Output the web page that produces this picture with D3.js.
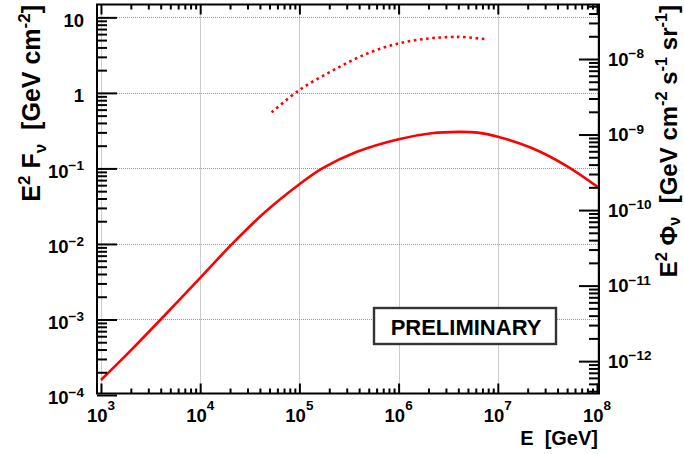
<!DOCTYPE html>
<html>
<head>
<meta charset="utf-8">
<script src="https://cdn.jsdelivr.net/npm/d3@7"></script>
<style>
  html, body { margin: 0; padding: 0; background: #fff; }
  svg { display: block; font-family: "Liberation Sans", Arial, Helvetica, sans-serif; font-weight: bold; }
  text { white-space: pre; }
</style>
</head>
<body>
<svg id="chart" width="684" height="454"></svg>
<script>
// ---- spectra: energy (GeV) and E^2 F (GeV cm^-2) ----
const energySolid = [1e3, 2e3, 4e3, 1e4, 2.1e4, 4.4e4, 1e5, 1.7e5, 3.8e5, 1e6, 2.15e6, 4e6, 6.3e6, 1e7, 2.2e7, 5.1e7, 1.05e8];
const fluxSolid   = [1.58e-4, 3.9e-4, 1.0e-3, 3.55e-3, 1.0e-2, 2.57e-2, 6.17e-2, 0.1, 0.166, 0.244, 0.292, 0.305, 0.298, 0.263, 0.186, 0.105, 0.055];
const energyDotted = [5.25e4, 1e5, 2.2e5, 4.8e5, 1e6, 2e6, 3.4e6, 4.3e6, 7.8e6];
const fluxDotted   = [0.552, 1.09, 2.0, 3.31, 4.52, 5.25, 5.5, 5.5, 5.13];

// ---- axes ----
const energyRange = [912, 1.047e8];
const fluxRange = [1.047e-4, 14.8];
const fluxToIntensity = 3.56e-9;   // E^2 F -> E^2 Phi (GeV cm^-2 s^-1 sr^-1)

const xTickValues = [1e3, 1e4, 1e5, 1e6, 1e7, 1e8];
const xTickLabels = [["10","3"],["10","4"],["10","5"],["10","6"],["10","7"],["10","8"]];
const yLeftTickValues = [1e-4, 1e-3, 1e-2, 1e-1, 1, 10];
const yLeftTickLabels = [["10","\u22124"],["10","\u22123"],["10","\u22122"],["10","\u22121"],["1",""],["10",""]];
const yRightTickValues = [1e-12, 1e-11, 1e-10, 1e-9, 1e-8];
const yRightTickLabels = [["10","\u221212"],["10","\u221211"],["10","\u221210"],["10","\u22129"],["10","\u22128"]];

const frame = { left: 97, right: 599, top: 4.5, bottom: 393.5 };

const svg = d3.select("#chart");

const x = d3.scaleLog().domain(energyRange).range([frame.left, frame.right]);
const y = d3.scaleLog().domain(fluxRange).range([frame.bottom, frame.top]);
const yR = d3.scaleLog()
  .domain([fluxRange[0] * fluxToIntensity, fluxRange[1] * fluxToIntensity])
  .range([frame.bottom, frame.top]);

// ---- grid ----
const grid = svg.append("g").attr("stroke", "#999").attr("stroke-width", 1).attr("stroke-dasharray", "1,1");
grid.selectAll("line.gx").data(xTickValues).join("line")
  .attr("x1", d => Math.round(x(d)) + 0.5).attr("x2", d => Math.round(x(d)) + 0.5)
  .attr("y1", frame.top).attr("y2", frame.bottom);
grid.selectAll("line.gy").data(yLeftTickValues.slice(1)).join("line")
  .attr("x1", frame.left).attr("x2", frame.right)
  .attr("y1", d => Math.round(y(d)) + 0.5).attr("y2", d => Math.round(y(d)) + 0.5);

// ---- curves ----
svg.append("clipPath").attr("id", "plotClip").append("rect")
  .attr("x", frame.left).attr("y", frame.top)
  .attr("width", frame.right - frame.left).attr("height", frame.bottom - frame.top);

const line = d3.line().x(d => x(d[0])).y(d => y(d[1])).curve(d3.curveCatmullRom.alpha(0.5));
const plot = svg.append("g").attr("clip-path", "url(#plotClip)");

plot.append("path")
  .attr("d", line(d3.zip(energySolid, fluxSolid)))
  .attr("fill", "none").attr("stroke", "#ff0000").attr("stroke-width", 2.6);

plot.append("path")
  .attr("d", line(d3.zip(energyDotted, fluxDotted)))
  .attr("fill", "none").attr("stroke", "#ff0000").attr("stroke-width", 2.6)
  .attr("stroke-dasharray", "2.6,3.6");

// ---- ticks ----
function minorOf(scale, majors) {
  return scale.ticks().filter(v => !majors.some(m => Math.abs(m - v) / m < 1e-6));
}
function tickAxis(axisFn, scale, majors, majorLen, minorLen, transform) {
  const g = svg.append("g").attr("transform", transform);
  g.append("g").call(axisFn(scale).tickValues(majors).tickSize(-majorLen).tickSizeOuter(0).tickFormat(""));
  g.append("g").call(axisFn(scale).tickValues(minorOf(scale, majors)).tickSize(-minorLen).tickSizeOuter(0).tickFormat(""));
  g.selectAll(".domain").remove();
  g.selectAll(".tick line").attr("stroke", "#000").attr("stroke-width", 2);
  return g;
}
tickAxis(d3.axisBottom, x, xTickValues, 10, 5, `translate(0,${frame.bottom})`);
tickAxis(d3.axisTop, x, xTickValues, 10, 5, `translate(0,${frame.top})`);
tickAxis(d3.axisLeft, y, yLeftTickValues, 20, 10, `translate(${frame.left},0)`);
tickAxis(d3.axisRight, yR, yRightTickValues, 20, 10, `translate(${frame.right},0)`);

// ---- frame ----
svg.append("rect")
  .attr("x", frame.left).attr("y", frame.top)
  .attr("width", frame.right - frame.left).attr("height", frame.bottom - frame.top)
  .attr("fill", "none").attr("stroke", "#000").attr("stroke-width", 2);

// ---- tick labels ----
function powerText(sel, lab) {
  sel.append("tspan").text(lab[0]);
  if (lab[1]) {
    const neg = lab[1].startsWith("\u2212");
    sel.append("tspan").attr("font-size", 13.5).attr("dy", neg ? -7.6 : -11.6).text(lab[1]);
  }
}
const labelSize = 18.5;

xTickValues.forEach((v, i) => {
  svg.append("text").attr("x", x(v)).attr("y", 421.7)
    .attr("text-anchor", "middle").attr("font-size", labelSize)
    .call(powerText, xTickLabels[i]);
});
yLeftTickValues.forEach((v, i) => {
  svg.append("text").attr("x", 84).attr("y", y(v) + 9.4)
    .attr("text-anchor", "end").attr("font-size", labelSize)
    .call(powerText, yLeftTickLabels[i]);
});
yRightTickValues.forEach((v, i) => {
  svg.append("text").attr("x", 608).attr("y", yR(v) + 6.6)
    .attr("text-anchor", "start").attr("font-size", labelSize)
    .call(powerText, yRightTickLabels[i]);
});

// ---- axis titles ----
svg.append("text").attr("x", 598).attr("y", 445)
  .attr("text-anchor", "end").attr("font-size", 20).text("E  [GeV]");

function richTitle(g, parts, size, subDrop) {
  const up = size * 0.42;
  parts.forEach(p => {
    const t = g.append("tspan").text(p.t);
    if (p.sup) t.attr("font-size", size * 0.68).attr("dy", -up);
    if (p.sub) t.attr("font-size", size * 0.68).attr("dy", subDrop);
    if (p.back !== undefined) t.attr("dy", p.back);
  });
}
const ls = 25;
const leftTitle = svg.append("text")
  .attr("transform", "translate(40,5) rotate(-90)")
  .attr("text-anchor", "end").attr("font-size", ls);
richTitle(leftTitle, [
  { t: "E" }, { t: "2", sup: true }, { t: " F", back: ls * 0.42 }, { t: "\u03bd", sub: true },
  { t: "  [GeV cm", back: -ls * 0.25 }, { t: "-2", sup: true }, { t: "]", back: ls * 0.42 }
], ls, ls * 0.25);

const rs = 24;
const rightTitle = svg.append("text")
  .attr("transform", "translate(677,5) rotate(-90)")
  .attr("text-anchor", "end").attr("font-size", rs);
richTitle(rightTitle, [
  { t: "E" }, { t: "2", sup: true }, { t: " \u03a6", back: rs * 0.42 }, { t: "\u03bd", sub: true },
  { t: "  [GeV cm", back: -rs * 0.12 }, { t: "-2", sup: true }, { t: " s", back: rs * 0.42 },
  { t: "-1", sup: true }, { t: " sr", back: rs * 0.42 }, { t: "-1", sup: true }, { t: "]", back: rs * 0.42 }
], rs, rs * 0.12);

// ---- preliminary stamp ----
svg.append("rect").attr("x", 374).attr("y", 308).attr("width", 182).attr("height", 36)
  .attr("fill", "#fff").attr("stroke", "#333").attr("stroke-width", 2.4);
svg.append("text").attr("x", 466).attr("y", 335)
  .attr("text-anchor", "middle").attr("font-size", 22).text("PRELIMINARY");
</script>
</body>
</html>
